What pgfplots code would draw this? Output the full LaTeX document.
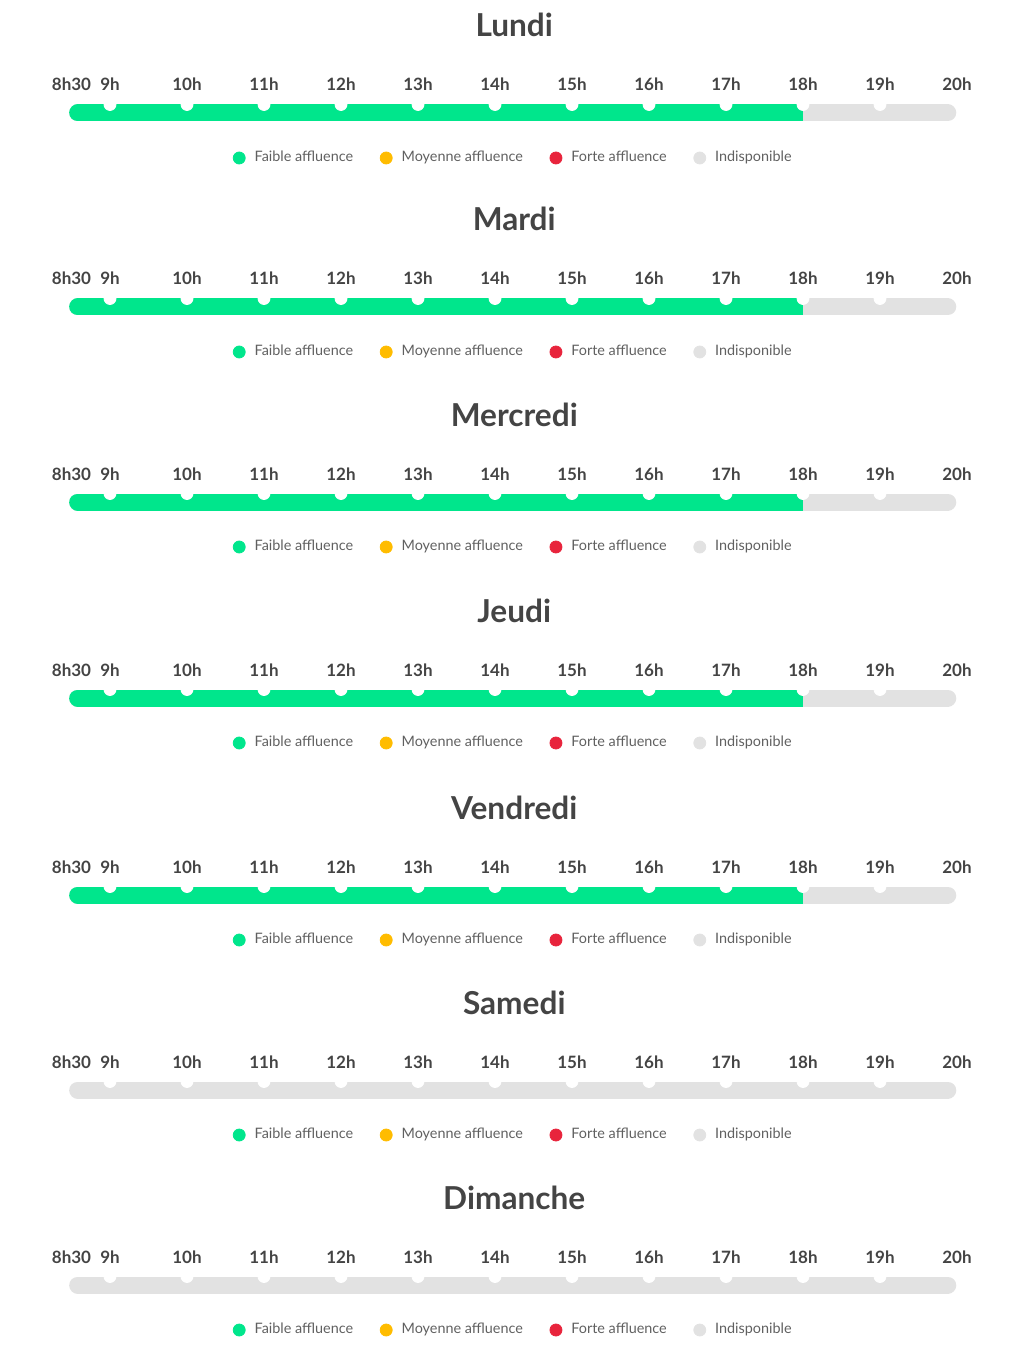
\documentclass[border=0pt]{standalone}
\usepackage{pgfplots}
\pgfplotsset{compat=1.18}
\usepackage{fontspec}
\setmainfont{Lato}

\definecolor{faible}{HTML}{00E68C}
\definecolor{moyenne}{HTML}{FFBC00}
\definecolor{forte}{HTML}{E8243C}
\definecolor{indispo}{HTML}{E2E2E2}
\definecolor{txt}{HTML}{444444}
\definecolor{leg}{HTML}{606060}

% 1 px of the reference = 0.5pt
\pgfplotsset{
  jour/.style={
    scale only axis, width=442.75pt, height=8.5pt,
    xmin=8.5, xmax=20, ymin=-1, ymax=1,
    clip=false,
    axis line style={draw=none},
    major tick style={draw=none},
    ytick=\empty,
    xtick={8.5,9,10,11,12,13,14,15,16,17,18,19,20},
    xticklabels={8h30,9h,10h,11h,12h,13h,14h,15h,16h,17h,18h,19h,20h},
    xticklabel pos=upper,
    xticklabel style={anchor=base, yshift=6.75pt,
      font=\fontsize{8.5}{10}\selectfont\bfseries, text=txt},
    legend columns=4,
    legend style={at={(0.5,0.5)}, anchor=center, yshift=-22.5pt,
      draw=none, fill=none, font=\fontsize{7.2}{9}\selectfont, text=leg,
      /tikz/every odd column/.append style={column sep=2.5pt},
      /tikz/every even column/.append style={column sep=11.3pt}},
    legend image code/.code={\fill[##1] (0,0) circle (3pt);},
  },
  barre/.style={forget plot, line width=8.5pt},
  encoche/.style={forget plot, only marks, mark=*, mark size=3pt, color=white},
}

\newcommand{\titre}[1]{%
  \node[anchor=base, yshift=33.75pt, text=txt,
    font=\fontsize{15.8}{18}\selectfont\bfseries] at (rel axis cs:0.5,1) {#1};}
\newcommand{\legende}{%
  \addlegendimage{faible}\addlegendentry{Faible affluence}
  \addlegendimage{moyenne}\addlegendentry{Moyenne affluence}
  \addlegendimage{forte}\addlegendentry{Forte affluence}
  \addlegendimage{indispo}\addlegendentry{Indisponible}}

\begin{document}
\begin{tikzpicture}
\path[use as bounding box] (0pt,0pt) rectangle (515pt,-684pt);

% Lundi
\begin{axis}[jour, at={(35.75pt,-56.5pt)}, anchor=west]
\legende
\addplot[barre, indispo, line cap=round] coordinates {(8.58,0) (19.88,0)};
\addplot[barre, faible, line cap=butt] coordinates {(8.58,0) (18,0)};
\addplot[barre, faible, line cap=round] coordinates {(8.58,0) (8.7,0)};
\addplot[encoche] coordinates {(9,1) (10,1) (11,1) (12,1) (13,1) (14,1) (15,1) (16,1) (17,1) (18,1) (19,1)};
\titre{Lundi}
\end{axis}

% Mardi
\begin{axis}[jour, at={(35.75pt,-153.5pt)}, anchor=west]
\legende
\addplot[barre, indispo, line cap=round] coordinates {(8.58,0) (19.88,0)};
\addplot[barre, faible, line cap=butt] coordinates {(8.58,0) (18,0)};
\addplot[barre, faible, line cap=round] coordinates {(8.58,0) (8.7,0)};
\addplot[encoche] coordinates {(9,1) (10,1) (11,1) (12,1) (13,1) (14,1) (15,1) (16,1) (17,1) (18,1) (19,1)};
\titre{Mardi}
\end{axis}

% Mercredi
\begin{axis}[jour, at={(35.75pt,-251pt)}, anchor=west]
\legende
\addplot[barre, indispo, line cap=round] coordinates {(8.58,0) (19.88,0)};
\addplot[barre, faible, line cap=butt] coordinates {(8.58,0) (18,0)};
\addplot[barre, faible, line cap=round] coordinates {(8.58,0) (8.7,0)};
\addplot[encoche] coordinates {(9,1) (10,1) (11,1) (12,1) (13,1) (14,1) (15,1) (16,1) (17,1) (18,1) (19,1)};
\titre{Mercredi}
\end{axis}

% Jeudi
\begin{axis}[jour, at={(35.75pt,-349pt)}, anchor=west]
\legende
\addplot[barre, indispo, line cap=round] coordinates {(8.58,0) (19.88,0)};
\addplot[barre, faible, line cap=butt] coordinates {(8.58,0) (18,0)};
\addplot[barre, faible, line cap=round] coordinates {(8.58,0) (8.7,0)};
\addplot[encoche] coordinates {(9,1) (10,1) (11,1) (12,1) (13,1) (14,1) (15,1) (16,1) (17,1) (18,1) (19,1)};
\titre{Jeudi}
\end{axis}

% Vendredi
\begin{axis}[jour, at={(35.75pt,-447.5pt)}, anchor=west]
\legende
\addplot[barre, indispo, line cap=round] coordinates {(8.58,0) (19.88,0)};
\addplot[barre, faible, line cap=butt] coordinates {(8.58,0) (18,0)};
\addplot[barre, faible, line cap=round] coordinates {(8.58,0) (8.7,0)};
\addplot[encoche] coordinates {(9,1) (10,1) (11,1) (12,1) (13,1) (14,1) (15,1) (16,1) (17,1) (18,1) (19,1)};
\titre{Vendredi}
\end{axis}

% Samedi
\begin{axis}[jour, at={(35.75pt,-545pt)}, anchor=west]
\legende
\addplot[barre, indispo, line cap=round] coordinates {(8.58,0) (19.88,0)};
\addplot[encoche] coordinates {(9,1) (10,1) (11,1) (12,1) (13,1) (14,1) (15,1) (16,1) (17,1) (18,1) (19,1)};
\titre{Samedi}
\end{axis}

% Dimanche
\begin{axis}[jour, at={(35.75pt,-642.5pt)}, anchor=west]
\legende
\addplot[barre, indispo, line cap=round] coordinates {(8.58,0) (19.88,0)};
\addplot[encoche] coordinates {(9,1) (10,1) (11,1) (12,1) (13,1) (14,1) (15,1) (16,1) (17,1) (18,1) (19,1)};
\titre{Dimanche}
\end{axis}
\end{tikzpicture}
\end{document}
